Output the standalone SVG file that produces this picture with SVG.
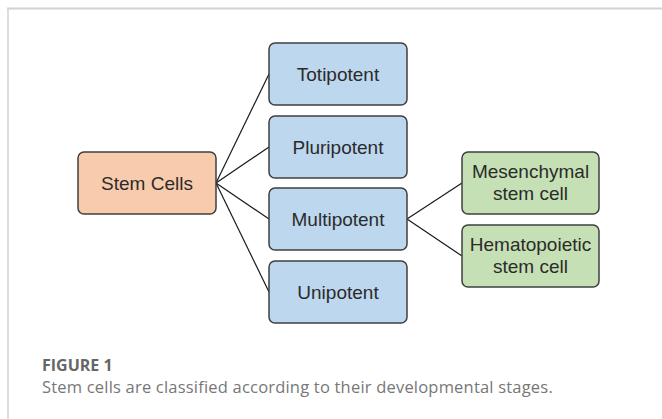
<svg xmlns="http://www.w3.org/2000/svg" width="662" height="419" viewBox="0 0 662 419">
<style>
.box{stroke:#3f3f3f;stroke-width:1.5}
.blue{fill:#bdd7ee}
.orange{fill:#f8cbad}
.green{fill:#c5e0b4}
.lbl{font-family:"Liberation Sans",Arial,sans-serif;font-size:19px;fill:#2b2b2b;text-anchor:middle}
.conn line{stroke:#1a1a1a;stroke-width:1.2}
.cap{font-family:"Open Sans","Liberation Sans",sans-serif}
</style>
<rect width="662" height="419" fill="#ffffff"/>
<g id="frame">
<line x1="7" y1="8.5" x2="662" y2="8.5" stroke="#d2d2d2" stroke-width="2"/>
<line x1="8" y1="8" x2="8" y2="419" stroke="#d2d2d2" stroke-width="1.5"/>
</g>
<g id="connectors" class="conn">
<line x1="216" y1="183" x2="269" y2="74"/>
<line x1="216" y1="183" x2="269" y2="147"/>
<line x1="216" y1="183" x2="269" y2="219"/>
<line x1="216" y1="183" x2="269" y2="292"/>
<line x1="407" y1="219" x2="462" y2="183"/>
<line x1="407" y1="219" x2="462" y2="256"/>
</g>
<g id="stem-cells">
<rect class="box orange" x="78" y="152" width="138" height="62" rx="6"/>
<text class="lbl" x="147" y="190">Stem Cells</text>
</g>
<g id="totipotent">
<rect class="box blue" x="269" y="43" width="138" height="62" rx="6"/>
<text class="lbl" x="338" y="81">Totipotent</text>
</g>
<g id="pluripotent">
<rect class="box blue" x="269" y="116" width="138" height="62" rx="6"/>
<text class="lbl" x="338" y="154">Pluripotent</text>
</g>
<g id="multipotent">
<rect class="box blue" x="269" y="188" width="138" height="62" rx="6"/>
<text class="lbl" x="338" y="226">Multipotent</text>
</g>
<g id="unipotent">
<rect class="box blue" x="269" y="261" width="138" height="62" rx="6"/>
<text class="lbl" x="338" y="299">Unipotent</text>
</g>
<g id="mesenchymal">
<rect class="box green" x="462" y="152" width="137" height="62" rx="6"/>
<text class="lbl" x="530.5" y="178">Mesenchymal</text>
<text class="lbl" x="530.5" y="200">stem cell</text>
</g>
<g id="hematopoietic">
<rect class="box green" x="462" y="225" width="137" height="62" rx="6"/>
<text class="lbl" x="530.5" y="251">Hematopoietic</text>
<text class="lbl" x="530.5" y="273">stem cell</text>
</g>
<g id="caption">
<text class="cap" x="42" y="371" font-size="16" font-weight="bold" fill="#666666">FIGURE 1</text>
<text class="cap" x="42" y="393" font-size="16.5" letter-spacing="0.2" fill="#777777">Stem cells are classified according to their developmental stages.</text>
</g>
</svg>
